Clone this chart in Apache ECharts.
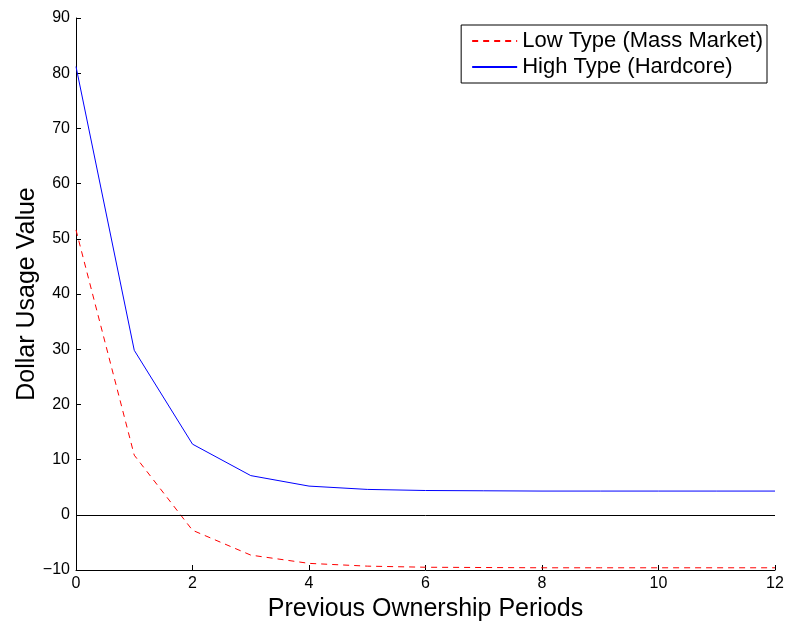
<!DOCTYPE html>
<html>
<head>
<meta charset="utf-8">
<script src="https://cdn.jsdelivr.net/npm/echarts@6/dist/echarts.min.js"></script>
<style>html,body{margin:0;padding:0;background:#fff;}#c{width:787px;height:621px;}</style>
</head>
<body>
<div id="c"></div>
<script>
var periods = [0,1,2,3,4,5,6,7,8,9,10,11,12];
var lowType = [51.6,10.8,-2.8,-7.3,-8.8,-9.3,-9.5,-9.55,-9.6,-9.6,-9.6,-9.6,-9.6];
var highType = [81.2,29.8,12.8,7.1,5.2,4.6,4.4,4.35,4.3,4.3,4.3,4.3,4.3];
var zeroLine = [0];
var seriesNames = ['Low Type (Mass Market)','High Type (Hardcore)'];
var xTitle = 'Previous Ownership Periods';
var yTitle = 'Dollar Usage Value';

var font = 'Liberation Sans, Arial, Helvetica, sans-serif';
var chart = echarts.init(document.getElementById('c'), null, {renderer:'canvas'});
function pairs(xs, ys){ return xs.map(function(x,i){ return [x, ys[i]]; }); }
function minus(v){ return String(v).replace('-', '\u2212'); }
chart.setOption({
  animation:false,
  backgroundColor:'#fff',
  grid:{left:76,right:12,top:18,bottom:51,containLabel:false,outerBoundsMode:'none'},
  legend:{
    orient:'vertical', right:20, top:25,
    padding:[5,4,5,10], itemGap:4,
    itemWidth:45, itemHeight:14,
    borderColor:'#000', borderWidth:1, backgroundColor:'#fff',
    itemStyle:{color:'transparent',borderWidth:0,opacity:0},
    textStyle:{fontFamily:font,fontSize:22,color:'#000',lineHeight:22},
    data:seriesNames
  },
  xAxis:{
    type:'value', min:0, max:12, interval:2,
    name:xTitle, nameLocation:'middle', nameGap:27, nameMoveOverlap:false,
    nameTextStyle:{fontFamily:font,fontSize:25,color:'#000'},
    axisLine:{show:true,onZero:false,lineStyle:{color:'#000',width:1}},
    axisTick:{show:true,inside:true,length:5,lineStyle:{color:'#000'}},
    axisLabel:{fontFamily:font,fontSize:16,color:'#000',margin:6,formatter:minus},
    splitLine:{show:false}
  },
  yAxis:{
    type:'value', min:-10, max:90, interval:10,
    name:yTitle, nameLocation:'middle', nameGap:36, nameMoveOverlap:false,
    nameTextStyle:{fontFamily:font,fontSize:25,color:'#000'},
    axisLine:{show:true,onZero:false,lineStyle:{color:'#000',width:1}},
    axisTick:{show:true,inside:true,length:5,lineStyle:{color:'#000'}},
    axisLabel:{fontFamily:font,fontSize:16,color:'#000',margin:6,formatter:minus},
    splitLine:{show:false}
  },
  series:[
    {
      name:seriesNames[0], type:'line', data:pairs(periods, lowType),
      symbol:'none', showSymbol:false,
      lineStyle:{color:'#ff0000',width:1,type:[6,5]},
      itemStyle:{color:'#ff0000'},
      markLine:{
        silent:true, symbol:['none','none'], label:{show:false},
        lineStyle:{color:'#000',width:1,type:'solid'},
        data:zeroLine.map(function(v){return {yAxis:v};})
      },
      z:3
    },
    {
      name:seriesNames[1], type:'line', data:pairs(periods, highType),
      symbol:'none', showSymbol:false,
      lineStyle:{color:'#0000ff',width:1},
      itemStyle:{color:'#0000ff'},
      z:3
    }
  ]
});
</script>
</body>
</html>
